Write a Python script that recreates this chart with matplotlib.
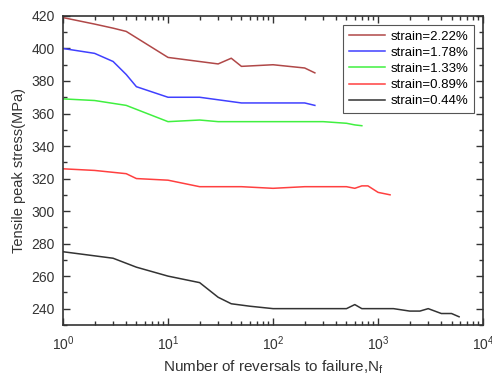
import matplotlib
matplotlib.use("Agg")
import matplotlib.pyplot as plt
from matplotlib.ticker import LogLocator, MultipleLocator, NullFormatter

plt.rcParams['font.family'] = ['Liberation Sans', 'DejaVu Sans']

# datos
n_222 = [1, 2, 3, 4, 10, 30, 40, 50, 100, 200, 250]
s_222 = [419, 415, 412.5, 410.5, 394.5, 390.5, 394, 389, 390, 388, 385]

n_178 = [1, 2, 3, 4, 5, 10, 20, 50, 100, 200, 250]
s_178 = [400, 397, 392, 384, 376.5, 370, 370, 366.5, 366.5, 366.5, 365]

n_133 = [1, 2, 4, 10, 20, 30, 100, 300, 500, 600, 700]
s_133 = [369, 368, 365, 355, 356, 355, 355, 355, 354, 353, 352.5]

n_089 = [1, 2, 4, 5, 10, 20, 50, 100, 200, 500, 600, 700, 800, 1000, 1300]
s_089 = [326, 325, 323, 320, 319, 315, 315, 314, 315, 315, 314, 315.5, 315.5, 311.5, 310]

n_044 = [1, 3, 5, 10, 20, 30, 40, 60, 100, 500, 600, 700, 1400, 2000, 2500, 3000, 4000, 5000, 5900]
s_044 = [275, 271, 265.5, 260, 256, 247, 243, 241.5, 240, 240, 242.5, 240, 240, 238.5, 238.5, 240, 237, 237, 235]

series = [
    (n_222, s_222, "#b04848", "strain=2.22%"),
    (n_178, s_178, "#4040ff", "strain=1.78%"),
    (n_133, s_133, "#40f040", "strain=1.33%"),
    (n_089, s_089, "#ff4040", "strain=0.89%"),
    (n_044, s_044, "#333333", "strain=0.44%"),
]

fig = plt.figure(figsize=(4.92, 3.8), dpi=100)
ax = fig.add_axes([0.128, 0.145, 0.854, 0.813])

for n, s, c, lab in series:
    ax.plot(n, s, color=c, lw=1.1, label=lab)

ax.set_xscale("log")
ax.set_xlim(1, 1e4)
ax.set_ylim(230, 420)
ax.yaxis.set_minor_locator(MultipleLocator(10))
ax.set_yticks(range(240, 421, 20))
ax.xaxis.set_major_locator(LogLocator(base=10, numticks=10))
ax.xaxis.set_minor_locator(LogLocator(base=10, subs=range(2, 10), numticks=10))
ax.xaxis.set_minor_formatter(NullFormatter())

ax.tick_params(which="both", direction="in", top=True, right=True,
               labelsize=10, colors="#333333", width=1.0)
ax.tick_params(which="major", length=5)
ax.tick_params(which="minor", length=3)
ax.tick_params(axis="x", pad=7)
ax.tick_params(axis="y", pad=6)
for sp in ax.spines.values():
    sp.set_linewidth(1.2)
    sp.set_color("#333333")

ax.set_xlabel("Number of reversals to failure,N$_\\mathregular{f}$", fontsize=11,
              color="#333333", labelpad=4)
ax.set_ylabel("Tensile peak stress(MPa)", fontsize=10.5, color="#333333", labelpad=4)

leg = ax.legend(loc="upper right", fontsize=9.5, fancybox=False, framealpha=1,
                edgecolor="#555555", handlelength=2.8, handletextpad=0.4,
                labelspacing=0.3, borderaxespad=0.7, borderpad=0.4)
leg.get_frame().set_linewidth(0.8)

fig.savefig("out.png", dpi=100)
